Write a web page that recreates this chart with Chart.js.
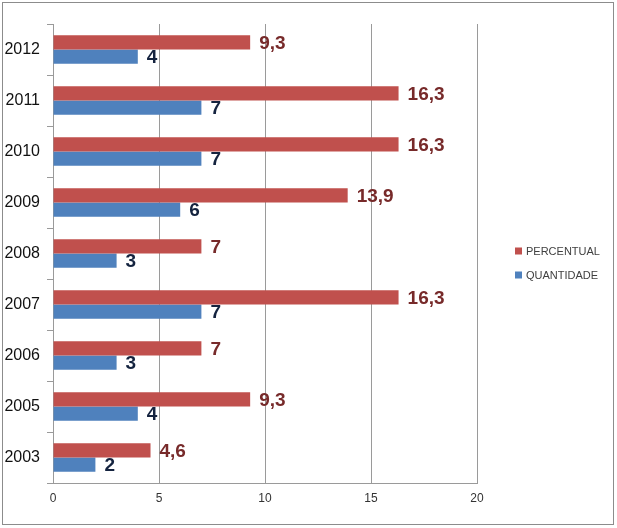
<!DOCTYPE html>
<html>
<head>
<meta charset="utf-8">
<script src="https://cdn.jsdelivr.net/npm/chart.js@4/dist/chart.umd.min.js"></script>
<style>
html,body{margin:0;padding:0;background:#fff;}
canvas{display:block;}
</style>
</head>
<body>
<canvas id="c" width="617" height="528"></canvas>
<script>
const categories = ['2012','2011','2010','2009','2008','2007','2006','2005','2003'];
const percentual = [9.3, 16.3, 16.3, 13.9, 7, 16.3, 7, 9.3, 4.6];
const quantidade = [4, 7, 7, 6, 3, 7, 3, 4, 2];
const seriesNames = ['PERCENTUAL', 'QUANTIDADE'];
const xTicks = [0, 5, 10, 15, 20];

const barColors = ['#c0504d', '#4f81bd'];
const labelColors = ['#772a2a', '#14233f'];
const FONT = '"Liberation Sans", Arial, sans-serif';

const framePlugin = {
  id: 'frame',
  beforeDraw(chart) {
    const ctx = chart.ctx;
    ctx.save();
    ctx.fillStyle = '#ffffff';
    ctx.fillRect(0, 0, chart.width, chart.height);
    ctx.strokeStyle = '#8c8c8c';
    ctx.lineWidth = 1;
    ctx.strokeRect(2.5, 2.5, 611, 522);
    ctx.restore();
  },
  afterDraw(chart) {
    const ctx = chart.ctx;
    ctx.save();
    ctx.font = '11px ' + FONT;
    ctx.textBaseline = 'middle';
    ctx.textAlign = 'left';
    const ys = [251, 275];
    seriesNames.forEach((n, i) => {
      ctx.fillStyle = barColors[i];
      ctx.fillRect(515, ys[i] - 3.5, 7, 7);
      ctx.fillStyle = '#404040';
      ctx.fillText(n, 526, ys[i] + 0.5);
    });
    ctx.restore();
  }
};

const labelPlugin = {
  id: 'valueLabels',
  afterDatasetsDraw(chart) {
    const ctx = chart.ctx;
    ctx.save();
    ctx.font = 'bold 19px ' + FONT;
    ctx.textBaseline = 'middle';
    ctx.textAlign = 'left';
    chart.data.datasets.forEach((ds, di) => {
      const meta = chart.getDatasetMeta(di);
      ctx.fillStyle = labelColors[di];
      meta.data.forEach((el, i) => {
        const txt = String(ds.data[i]).replace('.', ',');
        ctx.fillText(txt, el.x + 9, el.y + 1);
      });
    });
    ctx.restore();
  }
};

new Chart(document.getElementById('c'), {
  type: 'bar',
  data: {
    labels: categories,
    datasets: [
      { label: seriesNames[0], data: percentual, backgroundColor: barColors[0], borderWidth: 0 },
      { label: seriesNames[1], data: quantidade, backgroundColor: barColors[1], borderWidth: 0 }
    ]
  },
  options: {
    indexAxis: 'y',
    responsive: false,
    animation: false,
    devicePixelRatio: 1,
    categoryPercentage: 0.56,
    barPercentage: 1,
    layout: { padding: { left: 0, top: 24, right: 140, bottom: 0 } },
    plugins: { legend: { display: false }, tooltip: { enabled: false } },
    scales: {
      x: {
        type: 'linear',
        min: 0, max: 20,
        afterBuildTicks(scale) { scale.ticks = xTicks.map(v => ({ value: v })); },
        afterFit(scale) { scale.height = 45; },
        grid: { color: '#9a9a9a', lineWidth: 1, drawTicks: false },
        border: { display: true, color: '#9a9a9a' },
        ticks: { padding: 8, color: '#333333', font: { size: 12, family: FONT } }
      },
      y: {
        afterFit(scale) { scale.width = 53; },
        grid: { drawOnChartArea: false, drawTicks: true, tickLength: 6, offset: true, color: '#9a9a9a' },
        border: { display: true, color: '#9a9a9a' },
        ticks: { padding: 7, color: '#111111', font: { size: 16, family: FONT } }
      }
    }
  },
  plugins: [framePlugin, labelPlugin]
});
</script>
</body>
</html>
